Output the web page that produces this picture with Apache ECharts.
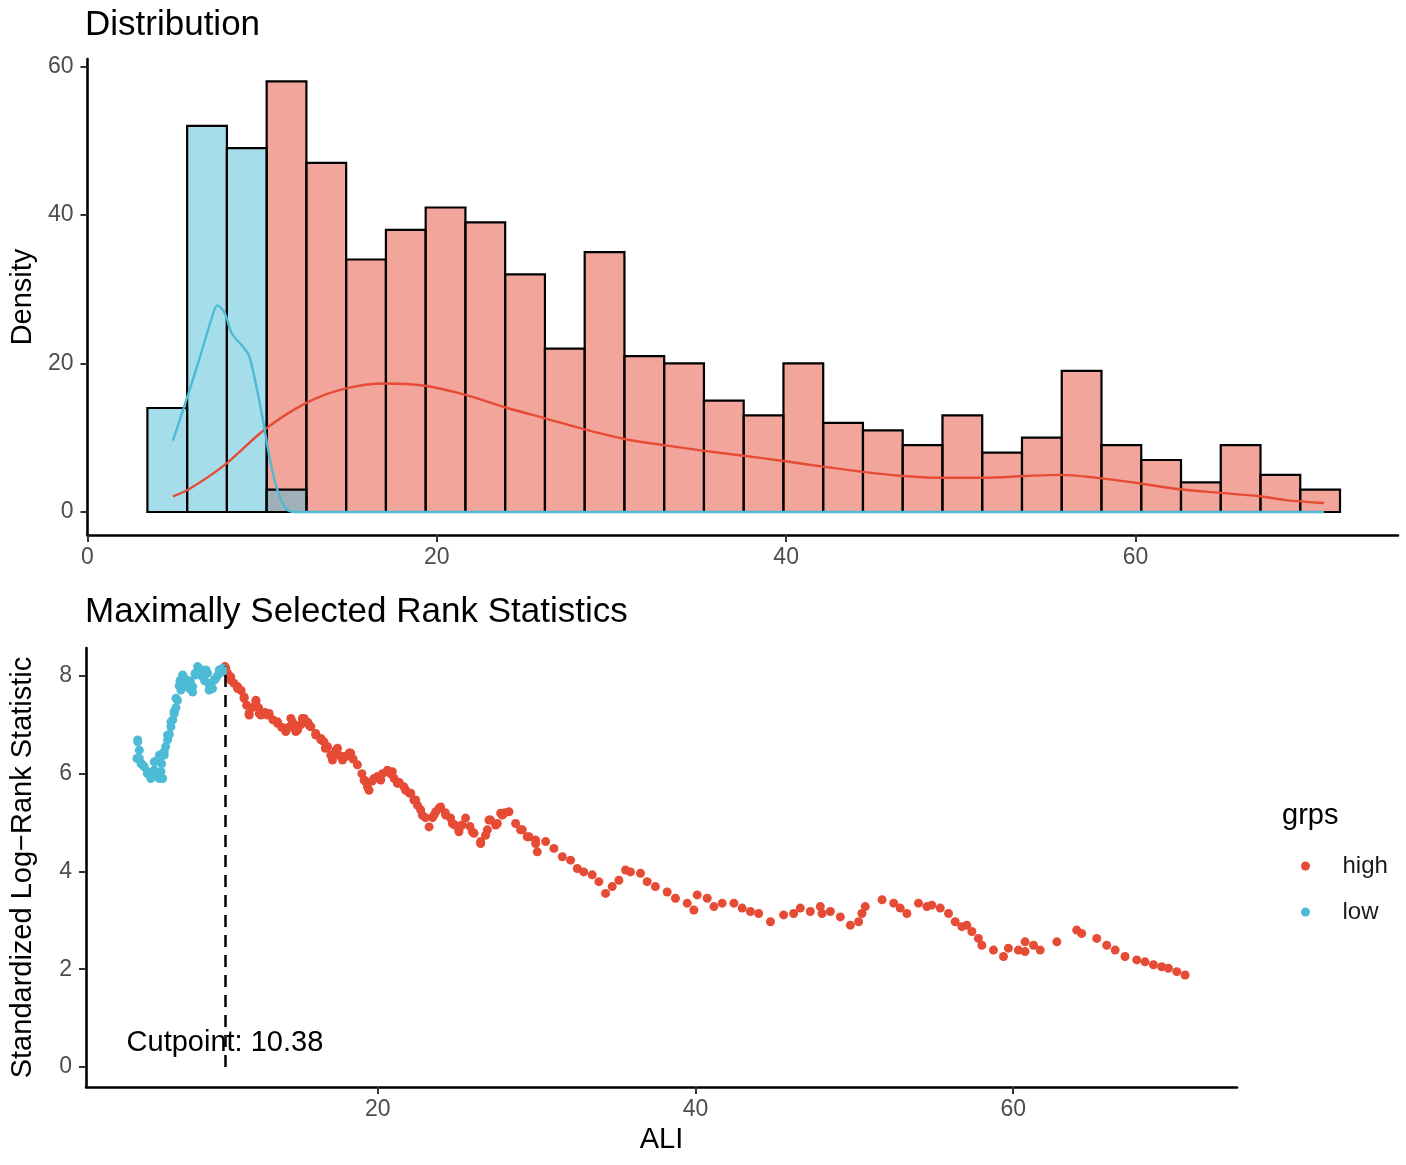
<!DOCTYPE html>
<html>
<head>
<meta charset="utf-8">
<script src="https://cdn.jsdelivr.net/npm/echarts@6/dist/echarts.min.js"></script>
<style>
  html, body { margin: 0; padding: 0; background: #fff; }
  #main { width: 1406px; height: 1165px; }
</style>
</head>
<body>
<div id="main"></div>
<script>
// histogram bins (ALI), counts per group
var binStart = 3.43;
var binWidth = 2.276;
var lowCounts = [14, 52, 49, 3];
var highCounts = [0, 0, 0, 58, 47, 34, 38, 41, 39, 32, 22, 35, 21, 20, 15, 13, 20,
  12, 11, 9, 13, 8, 10, 19, 9, 7, 4, 9, 5, 3];

// density curves (scaled to counts)
var lowDensity = [[4.89, 9.6], [5.52, 14.1], [6.34, 20.1], [7.1, 26], [7.43, 27.8],
  [7.86, 26.8], [8.25, 24.1], [8.88, 22.3], [9.26, 21.0], [9.65, 17.1], [10.03, 12.6],
  [10.4, 7.6], [10.79, 3.6], [11.3, 0.6], [11.8, 0], [70.8, 0]];
var highDensity = [[4.89, 2.1], [5.83, 3.1], [7.86, 6.35], [10.15, 11.1], [12.45, 14.6],
  [14.73, 16.6], [17.03, 17.3], [19.3, 17.0], [21.6, 15.8], [23.9, 14.1], [26.2, 12.6],
  [28.5, 11.1], [30.8, 9.8], [33.3, 8.9], [35.1, 8.3], [37.46, 7.6], [39.77, 6.9],
  [42.1, 6.1], [44.4, 5.4], [46.7, 4.85], [49.0, 4.6], [51.3, 4.6], [53.7, 4.85],
  [55.7, 5.0], [57.8, 4.6], [60.1, 3.9], [62.4, 3.1], [64.7, 2.6], [67.0, 2.15],
  [68.6, 1.6], [70.8, 1.2]];

// standardized log-rank statistic per cutpoint
var cutpoint = 10.38;
var cutpointMax = 8.19;
var lowStat = [[4.84, 6.31], [4.89, 6.69], [4.89, 6.65], [4.99, 6.48], [4.99, 6.31],
  [5.1, 6.2], [5.2, 6.18], [5.3, 6.14], [5.5, 6.0], [5.52, 6.04], [5.72, 5.9],
  [5.72, 5.95], [5.93, 6.07], [5.93, 6.24], [6.0, 6.25], [6.1, 5.95], [6.25, 5.9],
  [6.25, 6.28], [6.25, 6.38], [6.35, 6.04], [6.4, 6.2], [6.46, 5.9], [6.56, 6.38],
  [6.56, 6.45], [6.65, 6.55], [6.77, 6.69], [6.77, 6.79], [6.88, 6.8], [6.98, 6.96],
  [6.98, 7.06], [7.1, 7.1], [7.19, 7.23], [7.19, 7.27], [7.3, 7.35], [7.3, 7.54],
  [7.4, 7.5], [7.5, 7.8], [7.55, 7.9], [7.61, 7.71], [7.61, 7.81], [7.72, 8.02],
  [7.72, 7.98], [7.85, 7.95], [7.93, 7.88], [8.03, 7.85], [8.14, 7.74], [8.2, 7.9],
  [8.35, 7.78], [8.35, 7.67], [8.5, 8.05], [8.56, 8.02], [8.66, 8.19], [8.77, 8.15],
  [8.8, 8.1], [8.97, 7.98], [8.98, 8.05], [9.1, 7.9], [9.19, 8.12], [9.29, 8.05],
  [9.39, 7.71], [9.4, 7.81], [9.5, 7.85], [9.6, 7.74], [9.7, 7.91], [9.81, 7.95],
  [9.9, 8.0], [10.02, 8.12], [10.02, 8.05], [10.23, 8.08], [10.23, 8.15]];
var highStat = [[10.38, 8.19], [10.44, 8.15], [10.55, 8.05], [10.75, 7.98], [10.75, 7.91],
  [10.95, 7.85], [11.18, 7.78], [11.18, 7.74], [11.4, 7.7], [11.59, 7.57], [11.59, 7.54],
  [11.75, 7.4], [11.9, 7.23], [11.91, 7.2], [12.1, 7.35], [12.33, 7.5], [12.33, 7.47],
  [12.5, 7.35], [12.54, 7.23], [12.64, 7.2], [12.9, 7.25], [13.06, 7.2], [13.16, 7.23],
  [13.4, 7.1], [13.69, 7.03], [13.69, 7.06], [13.95, 6.95], [14.1, 6.93], [14.21, 6.86],
  [14.4, 6.95], [14.53, 7.13], [14.63, 7.06], [14.8, 6.98], [14.84, 6.86], [14.95, 6.89],
  [15.15, 7.0], [15.26, 7.13], [15.36, 7.13], [15.6, 7.05], [15.68, 6.99], [15.79, 6.96],
  [16.1, 6.82], [16.1, 6.79], [16.42, 6.69], [16.42, 6.72], [16.62, 6.65], [16.7, 6.52],
  [16.84, 6.55], [17.04, 6.38], [17.15, 6.28], [17.36, 6.48], [17.47, 6.52], [17.55, 6.38],
  [17.78, 6.28], [17.88, 6.35], [18.0, 6.35], [18.2, 6.42], [18.3, 6.42], [18.45, 6.3],
  [18.72, 6.18], [19.0, 6.0], [19.14, 5.87], [19.2, 5.85], [19.35, 5.73], [19.45, 5.66],
  [19.65, 5.85], [19.77, 5.9], [19.98, 5.94], [20.19, 5.87], [20.3, 6.0], [20.61, 6.07],
  [20.8, 6.0], [20.92, 6.04], [21.03, 5.9], [21.24, 5.8], [21.35, 5.82], [21.65, 5.73],
  [21.76, 5.66], [22.0, 5.6], [22.08, 5.6], [22.28, 5.46], [22.39, 5.46], [22.5, 5.35],
  [22.7, 5.26], [22.81, 5.15], [23.0, 5.1], [23.23, 4.91], [23.45, 5.1], [23.54, 5.15],
  [23.65, 5.22], [23.86, 5.29], [23.96, 5.32], [24.25, 5.2], [24.28, 5.15], [24.59, 5.09],
  [24.7, 4.98], [24.85, 4.95], [25.11, 4.81], [25.11, 4.85], [25.3, 4.95], [25.53, 5.09],
  [25.8, 4.92], [25.96, 4.81], [26.06, 4.78], [26.48, 4.57], [26.48, 4.61], [26.79, 4.74],
  [26.9, 4.85], [27.0, 5.05], [27.11, 5.05], [27.42, 4.95], [27.53, 4.98], [27.74, 5.19],
  [27.84, 5.15], [28.0, 5.2], [28.26, 5.22], [28.68, 4.98], [28.99, 4.85], [29.1, 4.85],
  [29.41, 4.71], [29.52, 4.71], [29.94, 4.57], [29.94, 4.64], [30.04, 4.4], [30.57, 4.61],
  [31.09, 4.47], [31.62, 4.3], [32.14, 4.23], [32.56, 4.06], [32.97, 3.99], [33.5, 3.93],
  [33.92, 3.79], [34.34, 3.55], [34.76, 3.69], [35.18, 3.82], [35.6, 4.03], [35.91, 3.99],
  [36.54, 3.96], [36.96, 3.79], [37.48, 3.69], [38.22, 3.58], [38.74, 3.45], [39.48, 3.35],
  [39.9, 3.21], [40.11, 3.52], [40.74, 3.45], [41.16, 3.28], [41.68, 3.35], [42.42, 3.35],
  [42.94, 3.25], [43.46, 3.18], [43.98, 3.14], [44.72, 2.97], [45.55, 3.11], [46.18, 3.14],
  [46.6, 3.25], [47.23, 3.18], [47.86, 3.28], [47.97, 3.14], [48.49, 3.18], [49.12, 3.07],
  [49.75, 2.9], [50.27, 2.97], [50.48, 3.14], [50.69, 3.28], [51.75, 3.42], [52.48, 3.35],
  [52.89, 3.25], [53.31, 3.14], [54.04, 3.35], [54.57, 3.28], [54.88, 3.31], [55.41, 3.25],
  [55.93, 3.14], [56.35, 2.97], [56.77, 2.87], [57.08, 2.9], [57.4, 2.77], [57.81, 2.63],
  [58.03, 2.49], [58.76, 2.39], [59.39, 2.26], [59.7, 2.43], [60.33, 2.39], [60.75, 2.56],
  [60.75, 2.36], [61.28, 2.49], [61.7, 2.39], [62.75, 2.56], [64.0, 2.8], [64.31, 2.73],
  [65.26, 2.63], [65.89, 2.49], [66.42, 2.39], [67.04, 2.26], [67.78, 2.19], [68.3, 2.15],
  [68.83, 2.09], [69.35, 2.05], [69.77, 2.02], [70.3, 1.95], [70.82, 1.88]];

var topXTicks = [0, 20, 40, 60];
var topYTicks = [0, 20, 40, 60];
var botXTicks = [20, 40, 60];
var botYTicks = [0, 2, 4, 6, 8];

var RED = '#E64B35';
var BLUE = '#4DBBD5';
var FONT = 'Liberation Sans, Arial, sans-serif';

function binData(counts) {
  var out = [];
  for (var i = 0; i < counts.length; i++) {
    if (counts[i] > 0) {
      out.push([binStart + i * binWidth, binStart + (i + 1) * binWidth, counts[i]]);
    }
  }
  return out;
}

function histItem(fill) {
  return function (params, api) {
    var a = api.coord([api.value(0), 0]);
    var b = api.coord([api.value(1), api.value(2)]);
    return {
      type: 'rect',
      shape: { x: a[0], y: b[1], width: b[0] - a[0], height: a[1] - b[1] },
      style: { fill: fill, stroke: '#000', lineWidth: 2.2 }
    };
  };
}

function xAxisOf(grid, min, max, ticks, extra) {
  var ax = {
    type: 'value', gridIndex: grid, min: min, max: max,
    axisLine: { onZero: false, lineStyle: { color: '#000', width: 2.6 } },
    axisTick: { customValues: ticks, length: 7, lineStyle: { color: '#333', width: 2 } },
    axisLabel: { customValues: ticks, fontSize: 23, color: '#4d4d4d', margin: 11, fontFamily: FONT },
    splitLine: { show: false }
  };
  return Object.assign(ax, extra || {});
}

function yAxisOf(grid, min, max, ticks, name, gap) {
  return {
    type: 'value', gridIndex: grid, min: min, max: max,
    name: name, nameLocation: 'middle', nameGap: gap,
    nameTextStyle: { fontSize: 29, color: '#000', fontFamily: FONT },
    axisLine: { show: true, onZero: false, lineStyle: { color: '#000', width: 2.6 } },
    axisTick: { show: true, customValues: ticks, length: 7, lineStyle: { color: '#333', width: 2 } },
    axisLabel: { customValues: ticks, fontSize: 23, color: '#4d4d4d', margin: 14, fontFamily: FONT },
    splitLine: { show: false }
  };
}

var chart = echarts.init(document.getElementById('main'));

var option = {
  backgroundColor: '#fff',
  animation: false,
  textStyle: { fontFamily: FONT },
  title: [
    { text: 'Distribution', left: 85, top: 8, padding: 0,
      textStyle: { fontSize: 35, fontWeight: 'normal', color: '#000', fontFamily: FONT } },
    { text: 'Maximally Selected Rank Statistics', left: 85, top: 595, padding: 0,
      textStyle: { fontSize: 35, fontWeight: 'normal', color: '#000', fontFamily: FONT } },
    { text: 'grps', left: 1282, top: 801, padding: 0,
      textStyle: { fontSize: 29, fontWeight: 'normal', color: '#000', fontFamily: FONT } }
  ],
  legend: {
    data: ['high', 'low'],
    orient: 'vertical',
    left: 1296,
    top: 849,
    icon: 'circle',
    itemWidth: 64,
    itemHeight: 9,
    itemGap: 22,
    textStyle: { fontSize: 24, color: '#1a1a1a', fontFamily: FONT }
  },
  grid: [
    { left: 85, top: 59, width: 1313, height: 476 },
    { left: 85, top: 648, width: 1152, height: 439 }
  ],
  xAxis: [
    xAxisOf(0, 0, 75.03, topXTicks),
    xAxisOf(1, 1.635, 74.09, botXTicks, {
      name: 'ALI', nameLocation: 'middle', nameGap: 38,
      nameTextStyle: { fontSize: 29, color: '#000', fontFamily: FONT }
    })
  ],
  yAxis: [
    yAxisOf(0, -3.1, 61, topYTicks, 'Density', 49),
    yAxisOf(1, -0.41, 8.57, botYTicks, 'Standardized Log\u2212Rank Statistic', 49)
  ],
  series: [
    {
      type: 'custom', name: 'highHist', xAxisIndex: 0, yAxisIndex: 0,
      renderItem: histItem('rgba(230,75,53,0.5)'),
      encode: { x: [0, 1], y: 2 },
      data: binData(highCounts), silent: true, z: 1
    },
    {
      type: 'custom', name: 'lowHist', xAxisIndex: 0, yAxisIndex: 0,
      renderItem: histItem('rgba(77,187,213,0.5)'),
      encode: { x: [0, 1], y: 2 },
      data: binData(lowCounts), silent: true, z: 2
    },
    {
      type: 'line', name: 'highDensity', xAxisIndex: 0, yAxisIndex: 0,
      data: highDensity, smooth: 0.3, showSymbol: false, symbol: 'none',
      lineStyle: { color: RED, width: 2.4 }, z: 3, silent: true
    },
    {
      type: 'line', name: 'lowDensity', xAxisIndex: 0, yAxisIndex: 0,
      data: lowDensity, smooth: 0.3, showSymbol: false, symbol: 'none',
      lineStyle: { color: BLUE, width: 2.4 }, z: 4, silent: true
    },
    {
      type: 'scatter', name: 'high', xAxisIndex: 1, yAxisIndex: 1,
      data: highStat, symbolSize: 9, itemStyle: { color: RED, opacity: 1 },
      markLine: {
        silent: true, symbol: 'none', animation: false,
        label: { show: false },
        lineStyle: { color: '#000', type: [12, 8], width: 2.5 },
        data: [[{ coord: [cutpoint, 0] }, { coord: [cutpoint, cutpointMax] }]]
      },
      markPoint: {
        silent: true, symbol: 'circle', symbolSize: 1,
        itemStyle: { color: 'rgba(0,0,0,0)' },
        label: {
          show: true, position: 'inside', formatter: 'Cutpoint: ' + cutpoint,
          fontSize: 29, color: '#000', fontFamily: FONT
        },
        data: [{ coord: [cutpoint, 0.49] }]
      }
    },
    {
      type: 'scatter', name: 'low', xAxisIndex: 1, yAxisIndex: 1,
      data: lowStat, symbolSize: 9, itemStyle: { color: BLUE, opacity: 1 }
    }
  ]
};

chart.setOption(option);
</script>
</body>
</html>
